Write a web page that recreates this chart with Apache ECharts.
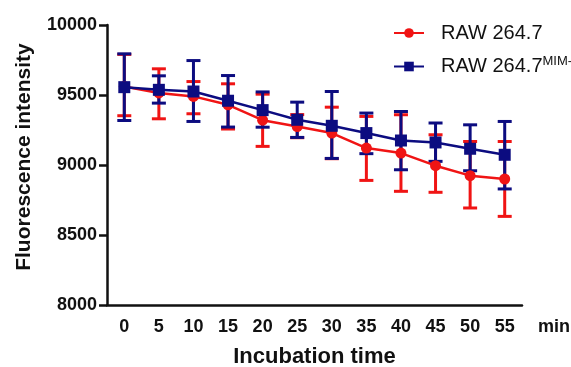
<!DOCTYPE html>
<html>
<head>
<meta charset="utf-8">
<script src="https://cdn.jsdelivr.net/npm/echarts@6/dist/echarts.min.js"></script>
<style>html,body{margin:0;padding:0;background:#fff}#c{width:571px;height:367px}</style>
</head>
<body>
<div id="c"></div>
<script>
// Data
const times = ['0','5','10','15','20','25','30','35','40','45','50','55'];
const rawMean = [9560, 9515, 9490, 9430, 9320, 9275, 9228, 9121, 9085, 8995, 8924, 8900];
const rawHigh = [9790, 9687, 9596, 9580, 9506, 9360, 9413, 9347, 9359, 9216, 9168, 9168];
const rawLow  = [9352, 9330, 9366, 9257, 9133, 9195, 9045, 8890, 8812, 8805, 8693, 8633];
const mimMean = [9556, 9537, 9525, 9459, 9392, 9323, 9280, 9228, 9175, 9161, 9116, 9073];
const mimHigh = [9794, 9637, 9746, 9639, 9522, 9449, 9525, 9371, 9382, 9300, 9287, 9311];
const mimLow  = [9318, 9442, 9311, 9271, 9270, 9197, 9047, 9081, 8966, 9026, 8959, 8829];
const yTicks = { min: 8000, max: 10000, interval: 500 };

const RED = '#f01414';
const BLUE = '#0c0c80';
const FONT = 'Liberation Sans';

function errData(low, high) {
  return times.map((t, i) => [i, low[i], high[i]]);
}
function errRender(color) {
  return function (params, api) {
    const x = api.value(0);
    const lo = api.coord([x, api.value(1)]);
    const hi = api.coord([x, api.value(2)]);
    const hw = 7;
    const style = { stroke: color, lineWidth: 3 };
    return {
      type: 'group',
      children: [
        { type: 'line', shape: { x1: hi[0], y1: hi[1], x2: lo[0], y2: lo[1] }, style },
        { type: 'line', shape: { x1: hi[0] - hw, y1: hi[1], x2: hi[0] + hw, y2: hi[1] }, style },
        { type: 'line', shape: { x1: lo[0] - hw, y1: lo[1], x2: lo[0] + hw, y2: lo[1] }, style }
      ]
    };
  };
}

const chart = echarts.init(document.getElementById('c'));
chart.setOption({
  animation: false,
  backgroundColor: '#fff',
  grid: { left: 107, right: 49, top: 25, bottom: 62, outerBoundsMode: 'none', containLabel: false },
  legend: {
    orient: 'vertical',
    left: 393,
    top: 23,
    padding: 0,
    itemWidth: 30,
    itemHeight: 12,
    itemGap: 12,
    data: ['RAW 264.7', 'RAW 264.7MIM-'],
    formatter: function (name) {
      if (name === 'RAW 264.7MIM-') return '{a|RAW 264.7}{s|MIM-}';
      return '{a|' + name + '}';
    },
    textStyle: {
      padding: [0, 0, 0, 12],
      rich: {
        a: { fontFamily: FONT, fontSize: 20, color: '#111', lineHeight: 20 },
        s: { fontFamily: FONT, fontSize: 13, color: '#111', padding: [0, 0, 10, 0] }
      }
    }
  },
  xAxis: {
    type: 'category',
    data: times,
    boundaryGap: true,
    name: 'Incubation time',
    nameLocation: 'middle',
    nameGap: 41,
    nameTextStyle: { fontFamily: FONT, fontSize: 22, fontWeight: 'bold', color: '#111' },
    axisLine: { lineStyle: { color: '#111', width: 2.5 } },
    axisTick: { alignWithLabel: true, length: 8, lineStyle: { color: '#111', width: 2.5 } },
    axisLabel: { interval: 0, margin: 13, fontFamily: FONT, fontSize: 18, fontWeight: 'bold', color: '#111' },
    splitLine: { show: false }
  },
  yAxis: {
    type: 'value',
    min: yTicks.min,
    max: yTicks.max,
    interval: yTicks.interval,
    name: 'Fluorescence intensity',
    nameLocation: 'middle',
    nameGap: 72,
    nameTextStyle: { fontFamily: FONT, fontSize: 21, fontWeight: 'bold', color: '#111', padding: [0, 0, 0, 16] },
    axisLine: { show: true, lineStyle: { color: '#111', width: 2.5 } },
    axisTick: { show: true, length: 8, lineStyle: { color: '#111', width: 2.5 } },
    axisLabel: { margin: 10, fontFamily: FONT, fontSize: 18, fontWeight: 'bold', color: '#111', formatter: function (v) { return String(v); } },
    splitLine: { show: false }
  },
  graphic: [
    { type: 'text', left: 538, top: 318, style: { text: 'min', font: 'bold 18px "Liberation Sans"', fill: '#111' } }
  ],
  series: [
    {
      type: 'custom', name: 'rawErr', z: 1,
      renderItem: errRender(RED),
      encode: { x: 0, y: [1, 2] },
      data: errData(rawLow, rawHigh)
    },
    {
      type: 'custom', name: 'mimErr', z: 2,
      renderItem: errRender(BLUE),
      encode: { x: 0, y: [1, 2] },
      data: errData(mimLow, mimHigh)
    },
    {
      type: 'line', name: 'RAW 264.7', z: 3,
      data: rawMean,
      symbol: 'circle', symbolSize: 11,
      itemStyle: { color: RED },
      lineStyle: { color: RED, width: 2.5 }
    },
    {
      type: 'line', name: 'RAW 264.7MIM-', z: 4,
      data: mimMean,
      symbol: 'rect', symbolSize: 12,
      itemStyle: { color: BLUE },
      lineStyle: { color: BLUE, width: 2.5 }
    }
  ]
});
</script>
</body>
</html>
